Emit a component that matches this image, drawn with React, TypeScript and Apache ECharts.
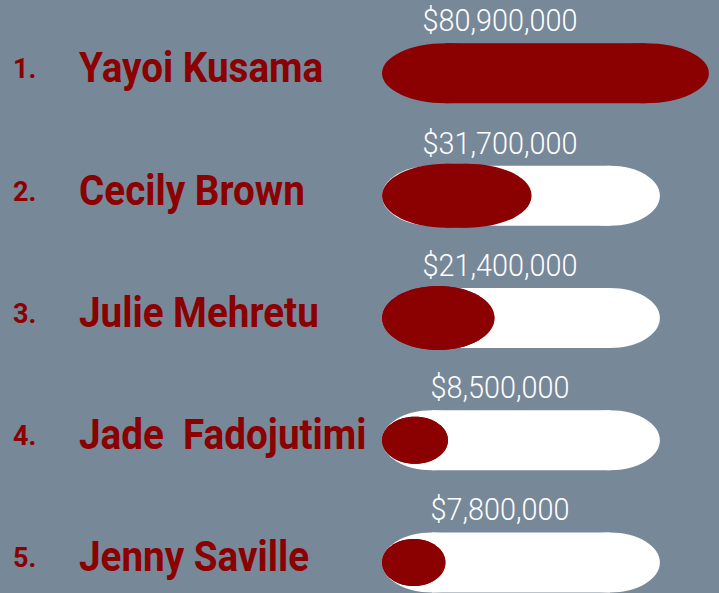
import { useEffect, useRef } from "react";
import * as echarts from "echarts";

// ---- data ----
const ranks = ["1.", "2.", "3.", "4.", "5."];
const artists = ["Yayoi Kusama", "Cecily Brown", "Julie Mehretu", "Jade  Fadojutimi", "Jenny Saville"];
const pricesMillions = [80.9, 31.7, 21.4, 8.5, 7.8];

// ---- scale / style constants ----
const AXIS_MIN = -9.8;
const AXIS_MAX = 83.7;
const TRACK_END = 67.3;
const ROW_MIN = -0.6;
const ROW_MAX = 4.25;
const markHeights = [60, 64, 64, 47, 47];
const RED = "#8b0000";
const BG = "#778899";
const FONT = "Roboto, 'Noto Sans', sans-serif";

const fmt = (m: number) => "$" + Math.round(m * 1e6).toLocaleString("en-US");

function pill(x0: number, x1: number, cy: number, ry: number, rxMax: number, color: string) {
  const w = Math.max(0, x1 - x0);
  const rx = Math.min(rxMax, w / 2);
  return [
    { type: "ellipse", shape: { cx: x0 + rx, cy, rx, ry }, style: { fill: color } },
    { type: "ellipse", shape: { cx: x1 - rx, cy, rx, ry }, style: { fill: color } },
    { type: "rect", shape: { x: x0 + rx, y: cy - ry, width: Math.max(0, w - 2 * rx), height: 2 * ry }, style: { fill: color } },
  ];
}

export default function App() {
  const ref = useRef<HTMLDivElement>(null);
  useEffect(() => {
    if (!ref.current) return;
    document.body.style.margin = "0";
    document.body.style.overflow = "hidden";
    const chart = echarts.init(ref.current, undefined, { renderer: "svg" });
    chart.setOption({
      animation: false,
      backgroundColor: BG,
      grid: { left: 382, top: 0, right: 0, bottom: 0 },
      xAxis: { type: "value", min: AXIS_MIN, max: AXIS_MAX, show: false },
      yAxis: { type: "value", inverse: true, min: ROW_MIN, max: ROW_MAX, show: false },
      series: [
        {
          type: "custom",
          encode: { x: 0, y: 1 },
          data: pricesMillions.map((v, i) => [v, i]),
          renderItem: (_params: any, api: any) => {
            const i = api.value(1) as number;
            const v = api.value(0) as number;
            const s = api.coord([AXIS_MIN, i]);
            const e = api.coord([v, i]);
            const t = api.coord([TRACK_END, i]);
            const cy = s[1];
            const x0 = s[0];
            const h = markHeights[i];
            const track = v < TRACK_END ? pill(x0, t[0], cy, 30, 50, "#ffffff") : [];
            return {
              type: "group",
              children: [
                ...track,
                ...pill(x0, e[0], cy, h / 2, 64, RED),
                {
                  type: "text",
                  x: x0 + 118,
                  y: cy - 53,
                  scaleX: 0.9,
                  style: {
                    text: fmt(v),
                    fill: "#ffffff",
                    fontSize: 32,
                    fontFamily: FONT,
                    fontWeight: 300,
                    align: "center",
                    verticalAlign: "middle",
                  },
                },
                {
                  type: "text",
                  x: 13,
                  y: cy - 4,
                  style: {
                    text: ranks[i],
                    fill: RED,
                    fontSize: 27,
                    fontFamily: FONT,
                    fontWeight: "bold",
                    align: "left",
                    verticalAlign: "middle",
                  },
                },
                {
                  type: "text",
                  x: 79,
                  y: cy - 5,
                  scaleX: 0.92,
                  style: {
                    text: artists[i],
                    fill: RED,
                    fontSize: 42,
                    fontFamily: FONT,
                    fontWeight: "bold",
                    align: "left",
                    verticalAlign: "middle",
                  },
                },
              ],
            };
          },
        },
      ],
    });
    return () => chart.dispose();
  }, []);
  return <div ref={ref} style={{ position: "absolute", left: 0, top: 0, width: 719, height: 593 }} />;
}
